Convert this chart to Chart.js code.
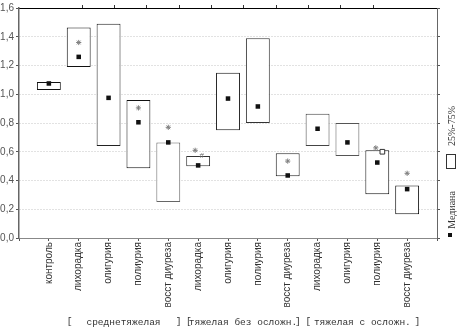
<!DOCTYPE html>
<html>
<head>
<meta charset="utf-8">
<script src="https://cdn.jsdelivr.net/npm/chart.js@4.4.0/dist/chart.umd.min.js"></script>
<style>
  html, body { margin: 0; padding: 0; background: #fff; }
  canvas { display: block; }
</style>
</head>
<body>
<canvas id="chart" width="457" height="328"></canvas>
<script>
const categories = ['контроль', 'лихорадка', 'олигурия', 'полиурия', 'восст диуреза',
  'лихорадка', 'олигурия', 'полиурия', 'восст диуреза',
  'лихорадка', 'олигурия', 'полиурия', 'восст диуреза'];
const q25 = [1.03, 1.19, 0.64, 0.485, 0.25, 0.50, 0.75, 0.80, 0.43, 0.64, 0.57, 0.305, 0.165];
const q75 = [1.085, 1.465, 1.49, 0.96, 0.665, 0.57, 1.15, 1.39, 0.59, 0.865, 0.80, 0.61, 0.365];
const medians = [1.075, 1.26, 0.975, 0.805, 0.665, 0.505, 0.97, 0.915, 0.435, 0.76, 0.665, 0.525, 0.34];
const boxColors = ['#111', '#111', '#222', '#111', '#666', '#333', '#111', '#333', '#222', '#444', '#555', '#111', '#111'];

// significance marks (x = category position, 1 = контроль)
const starPos = [2, 4, 5, 5.9, 9, 11.95, 13];
const starVals = [1.36, 0.905, 0.77, 0.61, 0.535, 0.627, 0.45];
const hashPos = [6.12];
const hashVals = [0.575];
const openPos = [12.17];
const openVals = [0.60];

const groups = ['среднетяжелая', 'тяжелая без осложн.', 'тяжелая с осложн.'];
const groupSpans = [[2, 5], [6, 9], [10, 13]];

const yMin = 0, yMax = 1.6, yStep = 0.2;

const labels = ['', ...categories, ''];
const boxData = [null, ...q25.map((v, i) => [v, q75[i]]), null];
const pts = (xs, ys) => xs.map((x, i) => ({ x, y: ys[i] }));

const notes = {
  id: 'notes',
  afterDraw(chart) {
    const ctx = chart.ctx;
    const xs = chart.scales.xs, y = chart.scales.y, x = chart.scales.x;
    ctx.save();
    ctx.textAlign = 'center';
    ctx.textBaseline = 'middle';
    ctx.fillStyle = '#666';
    ctx.font = '8px "Liberation Sans"';
    hashPos.forEach((p, i) => ctx.fillText('#', xs.getPixelForValue(p), y.getPixelForValue(hashVals[i])));

    ctx.fillStyle = '#333';
    ctx.font = '9.5px "Liberation Mono"';
    groups.forEach((g, i) => {
      const a = x.getPixelForValue(groupSpans[i][0]);
      const b = x.getPixelForValue(groupSpans[i][1]);
      const c = (a + b) / 2;
      ctx.fillText(g, c, 322);
      ctx.fillText('[', c - 54, 321);
      ctx.fillText(']', c + 55, 321);
    });

    // legend on the right
    ctx.font = '10px "Liberation Serif"';
    ctx.save();
    ctx.translate(452, 126);
    ctx.rotate(-Math.PI / 2);
    ctx.fillText('25%-75%', 0, 0);
    ctx.restore();
    ctx.fillStyle = '#fff';
    ctx.strokeStyle = '#333';
    ctx.lineWidth = 1;
    ctx.fillRect(446.5, 154.5, 9, 14);
    ctx.strokeRect(446.5, 154.5, 9, 14);
    ctx.fillStyle = '#333';
    ctx.save();
    ctx.translate(452, 210);
    ctx.rotate(-Math.PI / 2);
    ctx.fillText('Медиана', 0, 0);
    ctx.restore();
    ctx.fillStyle = '#111';
    ctx.fillRect(448, 233, 4, 4);
    ctx.restore();
  }
};

new Chart(document.getElementById('chart'), {
  type: 'bar',
  data: {
    labels,
    datasets: [
      {
        type: 'scatter', data: pts(categories.map((_, i) => i + 1), medians),
        xAxisID: 'xs', yAxisID: 'y', pointStyle: 'rect', radius: 3.2,
        backgroundColor: '#111', borderColor: '#111', borderWidth: 0, order: 0
      },
      {
        type: 'scatter', data: pts(starPos, starVals),
        xAxisID: 'xs', yAxisID: 'y', pointStyle: 'star', radius: 2.6,
        borderColor: '#808080', borderWidth: 1, order: 0
      },
      {
        type: 'scatter', data: pts(openPos, openVals),
        xAxisID: 'xs', yAxisID: 'y', pointStyle: 'rect', radius: 3.3,
        backgroundColor: '#fff', borderColor: '#333', borderWidth: 1, order: 0
      },
      {
        data: boxData, xAxisID: 'x', yAxisID: 'y', grouped: false,
        backgroundColor: '#fff', borderColor: [null, ...boxColors, null],
        borderWidth: 1, borderSkipped: false,
        categoryPercentage: 1, barPercentage: 0.8, order: 2
      }
    ]
  },
  options: {
    responsive: false,
    animation: false,
    layout: { padding: 0 },
    plugins: { legend: { display: false }, tooltip: { enabled: false } },
    scales: {
      x: {
        type: 'category', position: 'bottom', offset: false,
        grid: { offset: false, drawOnChartArea: false, drawTicks: true, tickLength: 3, tickColor: '#555' },
        border: { color: '#888', width: 1 },
        ticks: { minRotation: 90, maxRotation: 90, autoSkip: false, padding: 1, color: '#333',
          font: { family: '"Liberation Sans", Arial, sans-serif', size: 10 } },
        afterFit: s => { s.height = 90; }
      },
      x2: {
        type: 'linear', position: 'top', min: 0.04, max: 12.98, offset: false,
        ticks: { display: false, stepSize: 1 },
        grid: { offset: false, drawOnChartArea: false, tickLength: 3, tickColor: '#333' },
        border: { color: '#000', width: 1 },
        afterBuildTicks: s => { s.ticks = s.ticks.filter(t => Number.isInteger(t.value)); },
        afterFit: s => { s.height = 5; }
      },
      xs: { type: 'linear', display: false, offset: false, grid: { offset: false }, min: 0, max: labels.length - 1 },
      y: {
        position: 'left', min: yMin, max: yMax,
        ticks: { stepSize: yStep, padding: 2, color: '#555',
          font: { family: '"Liberation Sans", Arial, sans-serif', size: 10 },
          callback: v => v.toFixed(1).replace('.', ',') },
        grid: { color: '#c4c4c4', tickColor: '#555', tickLength: 3 },
        border: { color: '#666', width: 1.5, dash: [1, 2] },
        afterFit: s => { s.width = 19; }
      },
      y2: {
        position: 'right', min: yMin, max: yMax,
        ticks: { display: false, stepSize: yStep },
        grid: { drawOnChartArea: false, tickLength: 3, tickColor: '#555' },
        border: { color: '#666', width: 1 },
        afterFit: s => { s.width = 20; }
      }
    }
  },
  plugins: [notes]
});
</script>
</body>
</html>
